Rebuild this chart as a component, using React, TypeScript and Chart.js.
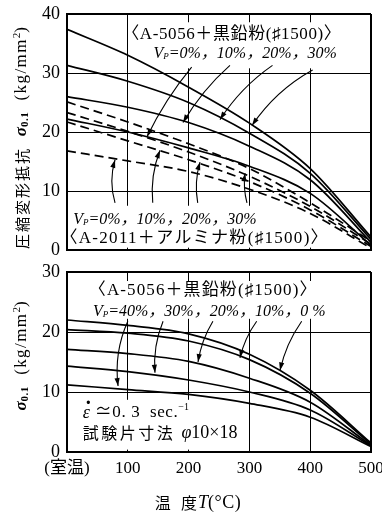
import React, { useEffect, useRef } from 'react';
import { Chart, registerables } from 'chart.js';

Chart.register(...registerables);

// ---------- data ----------
const temps = [0, 100, 200, 300, 400, 500];
const xTickLabels = ['(室温)', '100', '200', '300', '400', '500'];
const topYTicks = [0, 10, 20, 30, 40];
const botYTicks = [0, 10, 20, 30];

// upper panel: A-5056 + graphite powder (solid lines)
const topGraphite0 = [22.2, 20.0, 17.3, 14.2, 9.6, 0.8];
const topGraphite10 = [26.0, 24.2, 21.6, 17.6, 11.9, 1.3];
const topGraphite20 = [31.3, 28.6, 25.0, 19.8, 13.0, 1.8];
const topGraphite30 = [37.4, 33.0, 27.6, 21.5, 13.8, 2.2];
// upper panel: A-2011 + alumina powder (dashed lines)
const topAlumina0 = [16.8, 15.1, 13.3, 10.3, 6.2, 0.3];
const topAlumina10 = [21.7, 18.5, 15.3, 11.6, 6.8, 0.6];
const topAlumina20 = [23.3, 20.1, 16.6, 12.5, 7.4, 1.0];
const topAlumina30 = [25.1, 21.7, 18.0, 13.8, 8.0, 1.5];
// lower panel: A-5056 + graphite powder
const botGraphite0 = [22.0, 21.1, 19.7, 16.3, 10.3, 1.5];
const botGraphite10 = [20.4, 19.8, 18.5, 15.4, 9.8, 1.3];
const botGraphite20 = [17.1, 16.4, 15.1, 12.3, 8.3, 1.1];
const botGraphite30 = [14.3, 13.4, 12.0, 10.0, 7.0, 1.0];
const botGraphite40 = [11.2, 10.4, 9.6, 8.1, 5.8, 0.9];

// ---------- text helpers ----------
const SERIF = '"Liberation Serif", "Noto Sans CJK JP", serif';
const CJK = '"Noto Sans CJK JP", sans-serif';
const F = (size: number, style = '') => `${style} ${size}px ${SERIF}`.trim();
const FJ = (size: number) => `${size}px ${CJK}`;

type Seg = { t: string; font: string; dy?: number; dx?: number; ls?: number; adv?: number };
type TextItem = { x: number; y: number; segs: Seg[]; align: 'left' | 'center' };
type ArrowItem = { from: [number, number]; to: [number, number]; bend: number };
type BoxItem = { x1: number; y1: number; x2: number; y2: number };
type Annot = {
  boxes: BoxItem[];
  texts: TextItem[];
  arrows: ArrowItem[];
  yTitle: { segs: Seg[]; cx: number; dy: number };
  xTitle?: { segs: Seg[]; cx: number; cy: number };
};

function segWidth(ctx: CanvasRenderingContext2D, s: Seg) {
  ctx.font = s.font;
  (ctx as any).letterSpacing = `${s.ls || 0}px`;
  const w = s.adv !== undefined ? s.adv : ctx.measureText(s.t).width;
  return w;
}

function drawRich(ctx: CanvasRenderingContext2D, segs: Seg[], x: number, y: number, align: 'left' | 'center') {
  let w = 0;
  for (const s of segs) w += segWidth(ctx, s);
  let cx = align === 'center' ? x - w / 2 : x;
  ctx.textBaseline = 'middle';
  ctx.textAlign = 'left';
  ctx.fillStyle = '#000';
  for (const s of segs) {
    const sw = segWidth(ctx, s);
    ctx.fillText(s.t, cx + (s.dx || 0), y + (s.dy || 0));
    cx += sw;
  }
  (ctx as any).letterSpacing = '0px';
}

function drawArrow(ctx: CanvasRenderingContext2D, x1: number, y1: number, x2: number, y2: number, bend: number) {
  const dx = x2 - x1, dy = y2 - y1;
  const len = Math.hypot(dx, dy) || 1;
  const nx = -dy / len, ny = dx / len;
  const cx = (x1 + x2) / 2 + nx * bend * len;
  const cy = (y1 + y2) / 2 + ny * bend * len;
  ctx.beginPath();
  ctx.moveTo(x1, y1);
  ctx.quadraticCurveTo(cx, cy, x2, y2);
  ctx.stroke();
  const a = Math.atan2(y2 - cy, x2 - cx);
  const h = 8, w = 2.6;
  ctx.beginPath();
  ctx.moveTo(x2, y2);
  ctx.lineTo(x2 - h * Math.cos(a) + w * Math.sin(a), y2 - h * Math.sin(a) - w * Math.cos(a));
  ctx.lineTo(x2 - h * Math.cos(a) - w * Math.sin(a), y2 - h * Math.sin(a) + w * Math.cos(a));
  ctx.closePath();
  ctx.fill();
}

function makeAnnotPlugin(spec: Annot) {
  return {
    id: 'annot',
    beforeDatasetsDraw(chart: any) {
      const { ctx, scales } = chart;
      const x = scales.x, y = scales.y;
      ctx.save();
      ctx.fillStyle = '#fff';
      for (const b of spec.boxes) {
        const px1 = x.getPixelForValue(b.x1), px2 = x.getPixelForValue(b.x2);
        const py1 = y.getPixelForValue(b.y1), py2 = y.getPixelForValue(b.y2);
        ctx.fillRect(Math.min(px1, px2), Math.min(py1, py2), Math.abs(px2 - px1), Math.abs(py2 - py1));
      }
      ctx.restore();
    },
    afterDatasetsDraw(chart: any) {
      const { ctx, scales, chartArea } = chart;
      const x = scales.x, y = scales.y;
      ctx.save();
      ctx.strokeStyle = '#000';
      ctx.fillStyle = '#000';
      ctx.lineWidth = 1.1;
      for (const a of spec.arrows) {
        drawArrow(
          ctx,
          x.getPixelForValue(a.from[0]), y.getPixelForValue(a.from[1]),
          x.getPixelForValue(a.to[0]), y.getPixelForValue(a.to[1]),
          a.bend
        );
      }
      for (const t of spec.texts) {
        drawRich(ctx, t.segs, x.getPixelForValue(t.x), y.getPixelForValue(t.y), t.align);
      }
      // axis titles
      const cy = (chartArea.top + chartArea.bottom) / 2 + spec.yTitle.dy;
      ctx.save();
      ctx.translate(spec.yTitle.cx, cy);
      ctx.rotate(-Math.PI / 2);
      drawRich(ctx, spec.yTitle.segs, 0, 0, 'center');
      ctx.restore();
      if (spec.xTitle) {
        drawRich(ctx, spec.xTitle.segs, spec.xTitle.cx, spec.xTitle.cy, 'center');
      }
      ctx.restore();
    },
  };
}

// ---------- annotation content ----------
const titleGraphite = (ls: number): Seg[] => [{ t: '〈A-5056＋黒鉛粉(♯1500)〉', font: F(17), ls }];
const titleAlumina: Seg[] = [{ t: '〈A-2011＋アルミナ粉(♯1500)〉', font: F(17), ls: 1.3 }];
const vpSegs = (rest: string, size: number): Seg[] => [
  { t: 'V', font: F(size, 'italic') },
  { t: 'P', font: F(9, 'italic'), dy: 3 },
  { t: rest, font: F(size, 'italic') },
];
const sigmaTitle: Seg[] = [
  { t: 'σ', font: F(17, 'italic bold') },
  { t: '0.1', font: F(11, 'bold'), dy: 3, ls: 0.5 },
  { t: '  (kg/mm', font: F(17), ls: 1.4 },
  { t: '2', font: F(11), dy: -5 },
  { t: ')', font: F(17) },
];

const topAnnot: Annot = {
  boxes: [
    { x1: 104, x2: 457, y1: 38.6, y2: 30.8 },
    { x1: 5, x2: 419, y1: 7.5, y2: 0.4 },
  ],
  texts: [
    { x: 271, y: 36.6, align: 'center', segs: titleGraphite(0.6) },
    { x: 293, y: 33.3, align: 'center', segs: vpSegs('=0%，10%，20%，30%', 16) },
    { x: 161, y: 5.1, align: 'center', segs: vpSegs('=0%，10%，20%，30%', 16) },
    { x: 210, y: 2.0, align: 'center', segs: titleAlumina },
  ],
  arrows: [
    { from: [205, 31.0], to: [131.6, 19.2], bend: 0.06 },
    { from: [268, 31.3], to: [190.8, 21.6], bend: 0.08 },
    { from: [338, 31.3], to: [251.6, 22.1], bend: 0.1 },
    { from: [404, 30.5], to: [304.3, 21.1], bend: 0.12 },
    { from: [79, 8.0], to: [79, 15.3], bend: -0.15 },
    { from: [141, 8.0], to: [153, 16.9], bend: -0.12 },
    { from: [215, 8.0], to: [218.8, 14.9], bend: -0.12 },
    { from: [296, 8.0], to: [292.8, 13.0], bend: -0.1 },
  ],
  yTitle: {
    cx: 22,
    dy: 6,
    segs: [{ t: '圧縮変形抵抗  ', font: FJ(15), ls: 2 }, ...sigmaTitle],
  },
};

const botAnnot: Annot = {
  boxes: [
    { x1: 38, x2: 433, y1: 28.5, y2: 22.2 },
    { x1: 18, x2: 294, y1: 8.7, y2: 0.4 },
  ],
  texts: [
    { x: 224, y: 26.9, align: 'center', segs: titleGraphite(1.1) },
    { x: 234, y: 23.4, align: 'center', segs: vpSegs('=40%，30%，20%，10%，0 %', 16) },
    {
      x: 26, y: 6.5, align: 'left',
      segs: [
        { t: 'ε', font: F(18, 'italic') },
        { t: '·', font: F(20, 'bold'), dx: -5, dy: -9, adv: 0 },
        { t: ' ≃0. 3  sec.', font: F(17), ls: 0.6 },
        { t: '−1', font: F(10), dy: -6 },
      ],
    },
    {
      x: 26, y: 3.2, align: 'left',
      segs: [
        { t: '試験片寸法 ', font: FJ(16), ls: 2.5 },
        { t: 'φ', font: F(18, 'italic') },
        { t: '10×18', font: F(18) },
      ],
    },
  ],
  arrows: [
    { from: [100, 21.8], to: [84, 11.0], bend: 0.14 },
    { from: [158, 21.8], to: [144.7, 13.2], bend: 0.12 },
    { from: [240, 21.8], to: [215.5, 15.0], bend: 0.1 },
    { from: [312, 21.8], to: [284.5, 15.7], bend: 0.1 },
    { from: [386, 21.8], to: [350.3, 13.6], bend: 0.1 },
  ],
  yTitle: {
    cx: 22,
    dy: -6,
    segs: sigmaTitle,
  },
  xTitle: {
    cx: 198,
    cy: 245,
    segs: [
      { t: '温  度', font: FJ(16), ls: 1 },
      { t: 'T', font: F(18, 'italic') },
      { t: '(°C)', font: F(18), ls: 0.5 },
    ],
  },
};

// ---------- chart config ----------
const toXY = (arr: number[]) => temps.map((t, i) => ({ x: t, y: arr[i] }));

function lineDs(label: string, arr: number[], dashed: boolean) {
  return {
    label,
    data: toXY(arr),
    borderColor: '#000',
    borderWidth: 1.7,
    borderDash: dashed ? [9, 5] : [],
    pointRadius: 0,
    fill: false,
    cubicInterpolationMode: 'monotone' as const,
  };
}

function buildConfig(isTop: boolean): any {
  const yMax = isTop ? 40 : 30;
  const yTicks = isTop ? topYTicks : botYTicks;
  const datasets = isTop
    ? [
        lineDs('A-5056 Vp=0%', topGraphite0, false),
        lineDs('A-5056 Vp=10%', topGraphite10, false),
        lineDs('A-5056 Vp=20%', topGraphite20, false),
        lineDs('A-5056 Vp=30%', topGraphite30, false),
        lineDs('A-2011 Vp=0%', topAlumina0, true),
        lineDs('A-2011 Vp=10%', topAlumina10, true),
        lineDs('A-2011 Vp=20%', topAlumina20, true),
        lineDs('A-2011 Vp=30%', topAlumina30, true),
      ]
    : [
        lineDs('Vp=0%', botGraphite0, false),
        lineDs('Vp=10%', botGraphite10, false),
        lineDs('Vp=20%', botGraphite20, false),
        lineDs('Vp=30%', botGraphite30, false),
        lineDs('Vp=40%', botGraphite40, false),
      ];
  return {
    type: 'line',
    data: { datasets },
    options: {
      responsive: false,
      maintainAspectRatio: false,
      animation: false,
      layout: { padding: { left: 0, right: 11, top: 14, bottom: isTop ? 8 : 0 } },
      plugins: { legend: { display: false }, tooltip: { enabled: false } },
      scales: {
        x: {
          type: 'linear',
          min: temps[0],
          max: temps[temps.length - 1],
          afterBuildTicks: (s: any) => {
            s.ticks = temps.map((v) => ({ value: v }));
          },
          ticks: {
            display: !isTop,
            autoSkip: false,
            maxRotation: 0,
            color: '#000',
            padding: 6,
            font: { family: SERIF, size: 17 },
            callback: (v: number) => xTickLabels[temps.indexOf(v)] ?? '',
          },
          grid: {
            color: '#000',
            lineWidth: (c: any) => (c.tick && c.tick.value === temps[temps.length - 1] ? 2 : 1),
            drawTicks: false,
          },
          border: { display: true, color: '#000', width: 2 },
          afterFit: (s: any) => {
            s.height = isTop ? 0 : 62;
            s.paddingLeft = 0;
            s.paddingRight = 0;
          },
        },
        y: {
          type: 'linear',
          min: 0,
          max: yMax,
          afterBuildTicks: (s: any) => {
            s.ticks = yTicks.map((v) => ({ value: v }));
          },
          ticks: {
            color: '#000',
            padding: 7,
            font: { family: SERIF, size: 18 },
          },
          grid: {
            color: '#000',
            lineWidth: (c: any) => (c.tick && c.tick.value === yMax ? 2 : 1),
            drawTicks: false,
          },
          border: { display: true, color: '#000', width: 2 },
          afterFit: (s: any) => {
            s.width = 67;
            s.paddingTop = 0;
            s.paddingBottom = 0;
          },
        },
      },
    },
    plugins: [makeAnnotPlugin(isTop ? topAnnot : botAnnot)],
  };
}

function Panel({ isTop, height }: { isTop: boolean; height: number }) {
  const ref = useRef<HTMLCanvasElement>(null);
  useEffect(() => {
    const chart = new Chart(ref.current as HTMLCanvasElement, buildConfig(isTop));
    return () => chart.destroy();
  }, [isTop]);
  return (
    <canvas
      ref={ref}
      width={382}
      height={height}
      style={{ display: 'block', width: 382, height }}
    />
  );
}

export default function App() {
  return (
    <div style={{ position: 'absolute', left: 0, top: 0, width: 382, height: 514, background: '#fff' }}>
      <Panel isTop={true} height={258} />
      <Panel isTop={false} height={256} />
    </div>
  );
}
